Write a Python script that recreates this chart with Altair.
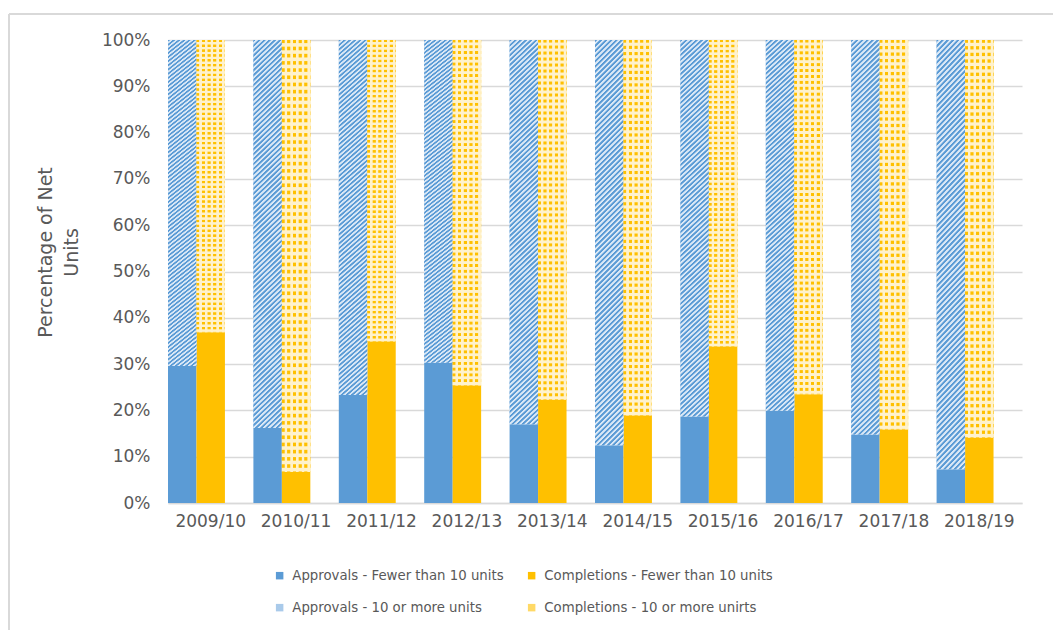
import altair as alt
import pandas as pd

# ---- data ----
years = ["2009/10", "2010/11", "2011/12", "2012/13", "2013/14",
         "2014/15", "2015/16", "2016/17", "2017/18", "2018/19"]
approvals_small = [29.6, 16.2, 23.3, 30.3, 17.0, 12.5, 18.7, 19.9, 14.8, 7.3]
completions_small = [36.9, 6.7, 34.9, 25.4, 22.3, 18.9, 33.8, 23.5, 15.9, 14.1]
series_names = [
    "Approvals - Fewer than 10 units",
    "Completions - Fewer than 10 units",
    "Approvals - 10 or more units",
    "Completions - 10 or more unirts",
]
# legend fills column by column: this order gives the reference's rows
legend_order = [series_names[0], series_names[2], series_names[1], series_names[3]]
groups = ["Approvals", "Completions", "Gap"]

# ---- styles ----
BLUE = "#5B9BD5"
YELLOW = "#FFC000"
BLUE_LIGHT = "#DAE8F6"
YELLOW_LIGHT = "#FFF2CC"
TEXT = "#595959"
GRID = "#D9D9D9"
FONT = "DejaVu Sans"
legend_colors = {series_names[0]: BLUE, series_names[1]: YELLOW,
                 series_names[2]: "#A9CAEA", series_names[3]: "#FFD966"}

rows = []
for yr, a, c in zip(years, approvals_small, completions_small):
    rows.append(dict(year=yr, series=series_names[0], group="Approvals", lo=0, hi=a))
    rows.append(dict(year=yr, series=series_names[1], group="Completions", lo=0, hi=c))
    rows.append(dict(year=yr, series=series_names[2], group="Approvals", lo=a, hi=100))
    rows.append(dict(year=yr, series=series_names[3], group="Completions", lo=c, hi=100))
df = pd.DataFrame(rows)


def stripes(c1, c2, n, duty, x2, y2, soft=0.15):
    """Repeating soft-edged stripe pattern built as a linear gradient."""
    stops = []
    for i in range(n):
        pts = [(0.0, c1), (duty - soft, c1), (duty, c2), (1 - soft, c2)]
        for f, col in pts:
            stops.append(alt.GradientStop(color=col, offset=round((i + f) / n, 6)))
    stops.append(alt.GradientStop(color=c1, offset=1.0))
    return alt.Gradient(gradient="linear", stops=stops, x1=0, y1=0, x2=x2, y2=y2)


x_enc = alt.X("year:N", sort=years,
              scale=alt.Scale(paddingInner=0, paddingOuter=0),
              axis=alt.Axis(title=None, labelAngle=0, labelFont=FONT, labelFontSize=17,
                            labelColor=TEXT, labelPadding=10, ticks=False,
                            domainColor=GRID, domainWidth=1.3, grid=False))
xoff_enc = alt.XOffset("group:N", sort=groups,
                       scale=alt.Scale(domain=groups, paddingInner=0, paddingOuter=0))
y_enc = alt.Y("lo:Q", scale=alt.Scale(domain=[0, 100], nice=False),
              axis=alt.Axis(values=list(range(0, 101, 10)),
                            labelExpr="datum.value + '%'",
                            title=["Percentage of Net", "Units"],
                            titleFont=FONT, titleFontSize=19, titleFontWeight="normal",
                            titleColor=TEXT, titleLineHeight=26, titleY=212,
                            titlePadding=20,
                            labelFont=FONT, labelFontSize=17, labelColor=TEXT,
                            labelPadding=18, ticks=False, domain=False,
                            gridColor=GRID, gridWidth=1.3))
y2_enc = alt.Y2("hi:Q")

base = alt.Chart(df)

main = base.mark_bar().encode(
    x=x_enc, xOffset=xoff_enc, y=y_enc, y2=y2_enc,
    color=alt.Color("series:N", sort=legend_order,
                    scale=alt.Scale(domain=legend_order,
                                    range=[legend_colors[s] for s in legend_order]),
                    legend=alt.Legend(title=None, orient="none", legendX=105, legendY=529,
                                      columns=2, symbolType="square", symbolSize=56,
                                      symbolStrokeWidth=0,
                                      labelFont=FONT, labelFontSize=13.3, labelColor=TEXT,
                                      labelLimit=320, labelOffset=6,
                                      columnPadding=21, rowPadding=18)),
)

hatch_a = base.transform_filter(
    alt.datum.series == series_names[2]
).mark_bar(fill=stripes(BLUE, BLUE_LIGHT, 85, 0.5, 0.075, 1.075)).encode(
    x=x_enc, xOffset=xoff_enc, y=y_enc, y2=y2_enc)

dots_rows = base.transform_filter(
    alt.datum.series == series_names[3]
).mark_bar(fill=stripes(YELLOW, YELLOW_LIGHT, 60, 0.5, 0, 1)).encode(
    x=x_enc, xOffset=xoff_enc, y=y_enc, y2=y2_enc)

dots_cols = base.transform_filter(
    alt.datum.series == series_names[3]
).mark_bar(fill=stripes("rgba(255,242,204,0)", YELLOW_LIGHT, 5, 0.55, 1, 0, soft=0.12)).encode(
    x=x_enc, xOffset=xoff_enc, y=y_enc, y2=y2_enc)

frame_left = alt.Chart(df).mark_rule(color=GRID, strokeWidth=1.5).encode(
    x=alt.value(-159), y=alt.value(-26), y2=alt.value(600))
frame_top = alt.Chart(df).mark_rule(color=GRID, strokeWidth=1.5).encode(
    x=alt.value(-159), x2=alt.value(900), y=alt.value(-26))

chart = alt.layer(main, hatch_a, dots_rows, dots_cols, frame_left, frame_top).properties(
    width=854, height=463,
    autosize=alt.AutoSizeParams(type="none"),
    padding={"left": 168, "top": 40, "right": 31, "bottom": 127},
    background="white",
).configure_view(stroke=None)

chart.save("out.html", embed_options={"renderer": "svg", "actions": False})
